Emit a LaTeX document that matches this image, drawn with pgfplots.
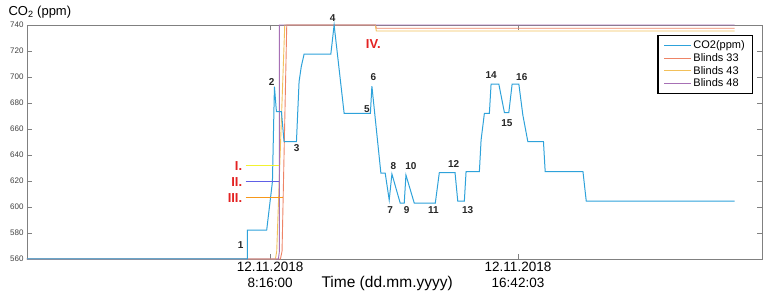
\documentclass[border=0pt]{standalone}
\usepackage{fontspec}
\setmainfont{Liberation Sans}
\usepackage{pgfplots}
\pgfplotsset{compat=1.18}

\definecolor{co2}{HTML}{2EA2DA}
\definecolor{bl33}{HTML}{EE8466}
\definecolor{bl43}{HTML}{F2C05A}
\definecolor{bl48}{HTML}{A770B5}
\definecolor{axgray}{HTML}{808080}
\definecolor{mkred}{HTML}{E32222}
\definecolor{mkyellow}{HTML}{F2F230}
\definecolor{mkblue}{HTML}{6060E6}
\definecolor{mkorange}{HTML}{F7981A}

\pgfplotsset{
  co2line/.style={co2, line width=1pt},
  bl33line/.style={bl33, line width=0.9pt},
  bl43line/.style={bl43, line width=0.9pt},
  bl48line/.style={bl48, line width=0.9pt},
}

\begin{document}
\begin{tikzpicture}
\begin{axis}[
    scale only axis,
    width=735pt, height=234pt,
    xmin=0, xmax=25,
    ymin=560, ymax=740,
    ytick distance=20,
    xtick={8.2667,16.7008},
    xticklabels={{12.11.2018\\8:16:00},{12.11.2018\\16:42:03}},
    xticklabel style={align=center, font=\fontsize{13.5}{15.5}\selectfont, text=black},
    yticklabel style={font=\fontsize{8}{9}\selectfont, text=black!75},
    /pgf/number format/assume math mode=true,
    /pgf/number format/1000 sep={},
    axis line style={axgray, line width=0.8pt},
    tick style={axgray, line width=0.7pt},
    major tick length=5pt,
    xlabel={Time (dd.mm.yyyy)},
    xlabel style={at={(axis description cs:0.49,0)}, anchor=center, yshift=-24pt,
                  font=\fontsize{15.5}{17}\selectfont},
    ylabel={CO\textsubscript{2} (ppm)},
    ylabel style={rotate=-90, at={(axis description cs:0,1)}, anchor=west,
                  xshift=-22pt, yshift=13pt, font=\fontsize{13}{15}\selectfont},
    clip=false,
    legend cell align=left,
    legend style={at={(axis description cs:1,1)}, anchor=north east,
                  xshift=-9pt, yshift=-10pt, draw=black, line width=1.2pt,
                  font=\fontsize{11}{12.5}\selectfont,
                  inner xsep=6pt, inner ysep=3.5pt,
                  nodes={inner sep=1.6pt}},
    legend image code/.code={\draw[#1, line width=0.9pt] (0pt,0pt) -- (27pt,0pt);},
]
\coordinate (SW) at (rel axis cs:0,0);
\coordinate (NE) at (rel axis cs:1,1);

\addlegendimage{co2line}\addlegendentry{CO2(ppm)}
\addlegendimage{bl33line}\addlegendentry{Blinds 33}
\addlegendimage{bl43line}\addlegendentry{Blinds 43}
\addlegendimage{bl48line}\addlegendentry{Blinds 48}

% Blinds
\addplot[bl33line, forget plot] coordinates {
  (0,560) (8.62,560) (8.675,566) (8.835,740) (11.85,740) (11.88,737.5) (24.065,737.5)
};
\addplot[bl43line, forget plot] coordinates {
  (0,560) (8.45,560) (8.494,566) (8.767,740) (11.85,740) (11.88,735.4) (24.065,735.4)
};
\addplot[bl48line, forget plot] coordinates {
  (0,560) (8.55,560) (8.586,566) (8.586,740) (24.065,740)
};

% CO2
\addplot[co2line, forget plot] coordinates {
  (0,560) (7.496,560) (7.496,582.3) (8.153,582.3) (8.348,619.5) (8.416,692.6)
  (8.484,673.3) (8.654,673.3) (8.743,650.2) (9.165,650.2) (9.254,696.4)
  (9.329,708) (9.424,717.5) (10.334,717.5) (10.446,740) (10.787,672)
  (11.680,672) (11.731,693) (12.037,626) (12.184,626) (12.320,605.4)
  (12.412,625.4) (12.695,602.9) (12.831,602.9) (12.889,624.6) (13.172,603)
  (13.888,603) (14.024,626.4) (14.559,626.4) (14.651,604.6) (14.876,604.6)
  (14.934,627.2) (15.387,627.2) (15.445,651.5) (15.557,672) (15.727,672)
  (15.785,694.6) (16.048,694.6) (16.239,672.6) (16.388,672.6) (16.501,694.6)
  (16.729,694.6) (16.865,670.8) (17.036,650.2) (17.567,650.2) (17.625,627.2)
  (18.910,627.2) (19.022,604.6) (24.065,604.6)
};

% marker lines I.-III.
\addplot[draw=mkyellow, line width=1.5pt, forget plot] coordinates {(7.44,631.8) (8.562,631.8)};
\addplot[draw=mkblue, line width=1.5pt, forget plot] coordinates {(7.44,619.5) (8.586,619.5)};
\addplot[draw=mkorange, line width=1.5pt, forget plot] coordinates {(7.44,607.2) (8.722,607.2)};

\begin{scope}[every node/.style={font=\fontsize{13}{14}\selectfont\bfseries, text=mkred}]
\node[anchor=east] at (axis cs:7.44,631.8) {I.};
\node[anchor=east] at (axis cs:7.44,619.5) {II.};
\node[anchor=east] at (axis cs:7.44,607.2) {III.};
\node at (axis cs:11.78,725.4) {IV.};
\end{scope}

\begin{scope}[every node/.style={font=\fontsize{10}{11}\selectfont\bfseries, text=black!85}]
\node at (axis cs:7.267,571.0) {1};
\node at (axis cs:8.324,696.2) {2};
\node at (axis cs:9.175,645.4) {3};
\node at (axis cs:10.40,745.6) {4};
\node at (axis cs:11.56,675.4) {5};
\node at (axis cs:11.78,700.3) {6};
\node at (axis cs:12.35,597.7) {7};
\node at (axis cs:12.46,631.5) {8};
\node at (axis cs:12.91,597.7) {9};
\node at (axis cs:13.06,631.5) {10};
\node at (axis cs:13.82,597.7) {11};
\node at (axis cs:14.51,633.3) {12};
\node at (axis cs:14.99,597.7) {13};
\node at (axis cs:15.79,701.6) {14};
\node at (axis cs:16.32,664.8) {15};
\node at (axis cs:16.83,700.3) {16};
\end{scope}
\end{axis}
\pgfresetboundingbox
\path[use as bounding box] ([shift={(-27pt,-37pt)}]SW) rectangle ([shift={(8pt,25pt)}]NE);
\end{tikzpicture}
\end{document}
